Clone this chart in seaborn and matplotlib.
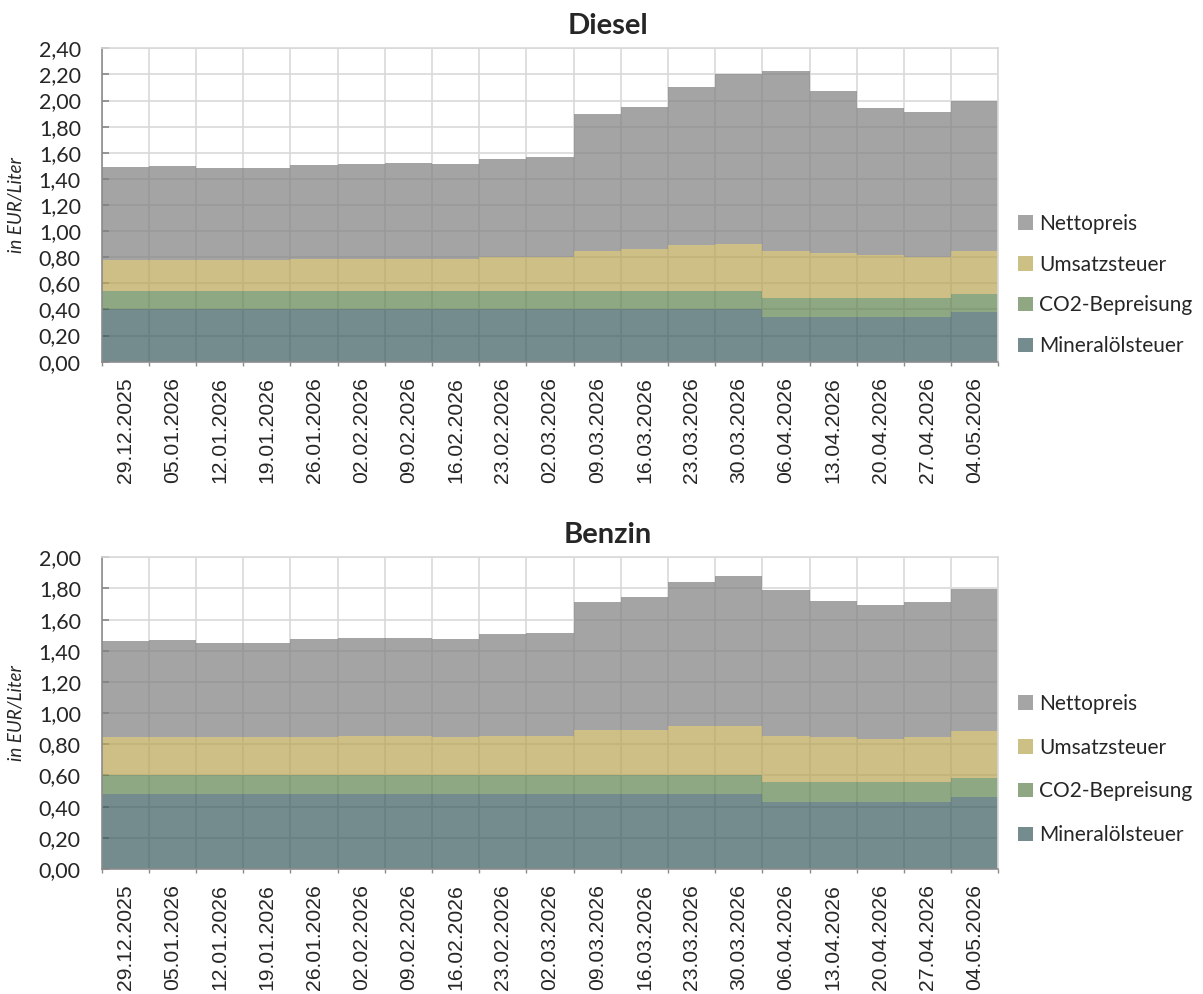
import numpy as np
import pandas as pd
import matplotlib
matplotlib.use("Agg")
import matplotlib.pyplot as plt
from matplotlib.patches import Patch
from matplotlib.ticker import FixedLocator
import seaborn as sns

# Wochen (Montag)
dates = ["29.12.2025", "05.01.2026", "12.01.2026", "19.01.2026", "26.01.2026",
         "02.02.2026", "09.02.2026", "16.02.2026", "23.02.2026", "02.03.2026",
         "09.03.2026", "16.03.2026", "23.03.2026", "30.03.2026", "06.04.2026",
         "13.04.2026", "20.04.2026", "27.04.2026", "04.05.2026"]

components = ["Nettopreis", "Umsatzsteuer", "CO2-Bepreisung", "Mineralölsteuer"]

# Diesel, EUR/Liter
diesel_mineral = [0.40, 0.40, 0.40, 0.40, 0.40, 0.40, 0.40, 0.40, 0.40, 0.40,
                  0.40, 0.40, 0.40, 0.40, 0.345, 0.345, 0.345, 0.345, 0.38]
diesel_co2 = [0.14, 0.14, 0.14, 0.14, 0.14, 0.14, 0.14, 0.14, 0.14, 0.14,
              0.14, 0.14, 0.14, 0.14, 0.145, 0.145, 0.145, 0.145, 0.135]
diesel_vat = [0.24, 0.24, 0.24, 0.24, 0.25, 0.25, 0.25, 0.25, 0.26, 0.26,
              0.31, 0.32, 0.35, 0.365, 0.36, 0.34, 0.325, 0.315, 0.33]
diesel_netto = [0.71, 0.72, 0.70, 0.70, 0.72, 0.725, 0.73, 0.725, 0.75, 0.765,
                1.045, 1.09, 1.215, 1.30, 1.375, 1.245, 1.13, 1.11, 1.15]

# Benzin, EUR/Liter
benzin_mineral = [0.48, 0.48, 0.48, 0.48, 0.48, 0.48, 0.48, 0.48, 0.48, 0.48,
                  0.48, 0.48, 0.48, 0.48, 0.43, 0.43, 0.43, 0.43, 0.46]
benzin_co2 = [0.12, 0.12, 0.12, 0.12, 0.12, 0.12, 0.12, 0.12, 0.12, 0.12,
              0.12, 0.12, 0.12, 0.12, 0.13, 0.13, 0.13, 0.13, 0.125]
benzin_vat = [0.25, 0.25, 0.25, 0.25, 0.25, 0.255, 0.255, 0.25, 0.255, 0.255,
              0.29, 0.295, 0.315, 0.32, 0.295, 0.285, 0.275, 0.285, 0.30]
benzin_netto = [0.61, 0.62, 0.60, 0.60, 0.625, 0.625, 0.625, 0.625, 0.65, 0.66,
                0.82, 0.85, 0.925, 0.96, 0.935, 0.875, 0.86, 0.87, 0.91]

diesel_ticks = [0.0, 0.2, 0.4, 0.6, 0.8, 1.0, 1.2, 1.4, 1.6, 1.8, 2.0, 2.2, 2.4]
benzin_ticks = [0.0, 0.2, 0.4, 0.6, 0.8, 1.0, 1.2, 1.4, 1.6, 1.8, 2.0]

sns.set_theme(style="white")
plt.rcParams["font.family"] = ["Lato", "DejaVu Sans"]

# Fuellfarben halbtransparent, damit das Gitter durchscheint
palette = {"Nettopreis": "#7e7e7e", "Umsatzsteuer": "#b8a451",
           "CO2-Bepreisung": "#5f834e", "Mineralölsteuer": "#3a5b5f"}
legend_colors = {"Nettopreis": "#a5a5a5", "Umsatzsteuer": "#cdc085",
                 "CO2-Bepreisung": "#8fa883", "Mineralölsteuer": "#758c8f"}


def make_df(netto, vat, co2, mineral):
    rows = []
    for name, vals in zip(components, [netto, vat, co2, mineral]):
        for i, v in enumerate(vals):
            rows.append({"woche": i, "wert": v, "teil": name})
    return pd.DataFrame(rows)


fig = plt.figure(figsize=(12.03, 9.94), dpi=100)
W, H = 1203, 994


def draw(rect, df, yticks, title, title_y, legend_y, spacing):
    ax = fig.add_axes(rect)
    sns.histplot(data=df, x="woche", weights="wert", hue="teil",
                 hue_order=components, palette=palette, discrete=True,
                 multiple="stack", element="step", fill=True, alpha=0.7,
                 linewidth=0, legend=False, ax=ax, zorder=2)
    n = len(dates)
    ax.set_xlim(-0.5, n - 0.5)
    ax.set_ylim(0, yticks[-1])
    ax.set_xticks(range(n))
    ax.set_xticklabels(dates, rotation=90, fontsize=15.2,
                       family=["Liberation Sans", "DejaVu Sans"])
    ax.xaxis.set_minor_locator(FixedLocator(np.arange(-0.5, n, 1.0)))
    ax.set_yticks(yticks)
    ax.set_yticklabels([f"{t:.2f}".replace(".", ",") for t in yticks], fontsize=15.5)
    ax.tick_params(axis="x", which="major", length=0, pad=11)
    ax.tick_params(axis="x", which="minor", length=3, color="#8c8c8c", direction="out",
                   bottom=True)
    ax.tick_params(axis="y", length=5, color="#8c8c8c", direction="in", pad=15, left=True)
    ax.grid(True, axis="y", which="major", color="#d9d9d9", lw=1.2, zorder=0)
    ax.grid(True, axis="x", which="minor", color="#d9d9d9", lw=1.2, zorder=0)
    ax.grid(False, axis="x", which="major")
    ax.set_axisbelow(True)
    for s in ["top", "right"]:
        ax.spines[s].set_color("#d9d9d9")
        ax.spines[s].set_linewidth(1.2)
    for s in ["left", "bottom"]:
        ax.spines[s].set_color("#8c8c8c")
        ax.spines[s].set_linewidth(1.2)
    ax.set_xlabel("")
    ax.set_ylabel("in EUR/Liter", fontsize=13.5, style="italic")
    ax.yaxis.set_label_coords(-0.085, 0.5)
    fig.text(608 / W, 1 - title_y / H, title, fontsize=21, fontweight="bold",
             ha="center", va="baseline")
    handles = [Patch(facecolor=legend_colors[c], edgecolor="none") for c in components]
    fig.legend(handles, components, loc="center left",
               bbox_to_anchor=(1018 / W, 1 - legend_y / H), frameon=False,
               fontsize=15, handlelength=0.7, handleheight=0.7, handletextpad=0.3,
               labelspacing=spacing, borderpad=0, borderaxespad=0)
    return ax


draw([101.7 / W, 1 - 361.7 / H, 896.6 / W, 313.4 / H],
     make_df(diesel_netto, diesel_vat, diesel_co2, diesel_mineral),
     diesel_ticks, "Diesel", 34, 285, 1.0)
draw([101.7 / W, 1 - 869 / H, 896.6 / W, 311.7 / H],
     make_df(benzin_netto, benzin_vat, benzin_co2, benzin_mineral),
     benzin_ticks, "Benzin", 542.7, 769.5, 1.15)

fig.savefig("out.png", dpi=100)
